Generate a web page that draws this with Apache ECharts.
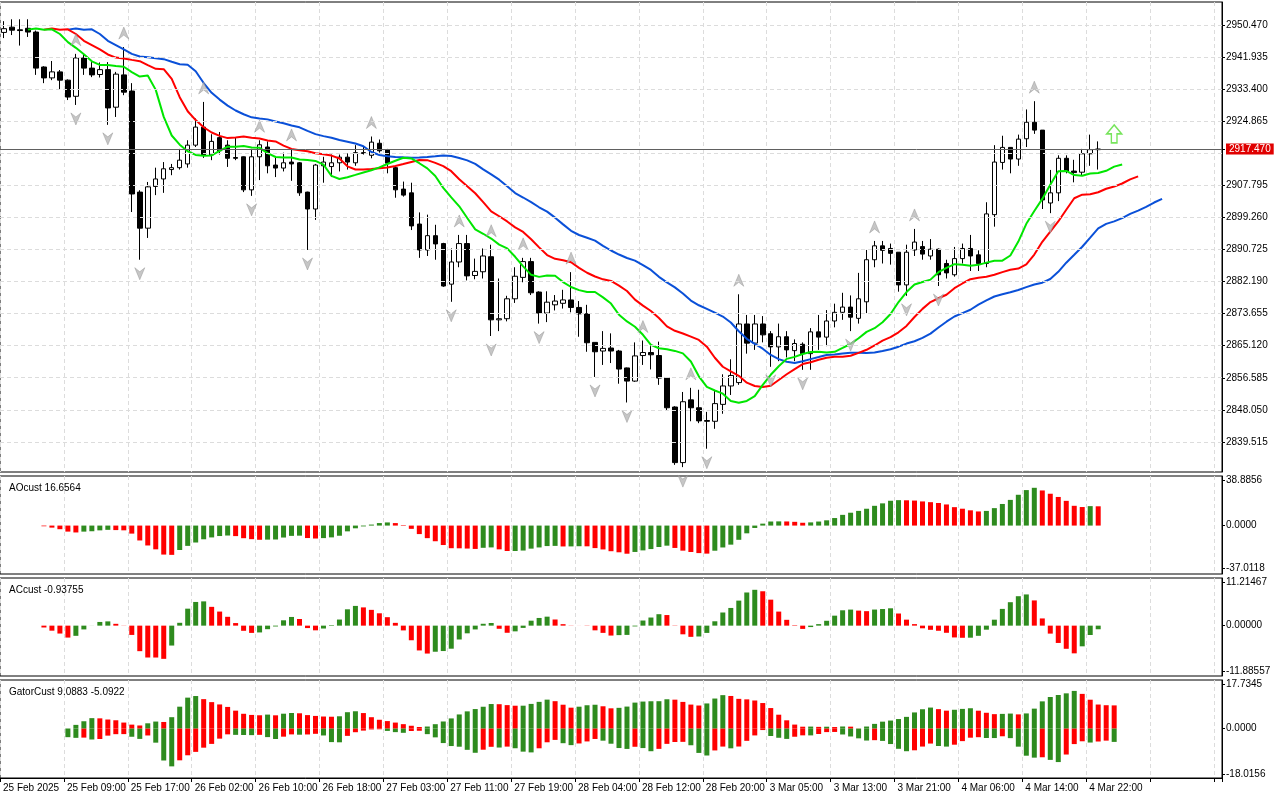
<!DOCTYPE html>
<html><head><meta charset="utf-8">
<script src="https://cdn.jsdelivr.net/npm/echarts@6/dist/echarts.min.js"></script>
<style>html,body{margin:0;padding:0;background:#fff}#c{width:1280px;height:800px}</style>
</head><body><div id="c"></div>
<script>
const DAYS = ['25 Feb','26 Feb','27 Feb','28 Feb','3 Mar','4 Mar'];
const HOURS = [1,2,3,4,5,6,7,8,9,10,11,12,13,14,15,16,17,18,19,20,21,22,23];
const FUTURE_SLOTS = 15;
const openP = [2948.5,2949.9,2949.2,2949.6,2948.6,2939.3,2936.4,2938,2935.8,2931.5,2941.7,2939,2937.3,2938.6,2928.6,2937.2,2932.9,2906,2896.4,2907.5,2909.5,2912,2912.5,2913.5,2918.5,2923.3,2915.9,2920.5,2918.5,2915.2,2915.4,2906.6,2915.4,2918,2913.2,2912.4,2914,2913.8,2906,2901.5,2913,2912.8,2913.8,2915.3,2913.8,2916.5,2915.8,2919,2917.2,2912.5,2906.8,2905.8,2897.5,2890.6,2894.4,2892.3,2881.5,2887.4,2892.3,2883.8,2884.8,2888.8,2872,2872.3,2877.6,2883.3,2887.5,2879.4,2873.8,2876,2876.4,2877.3,2875.3,2873.6,2866,2863.7,2864.5,2863.7,2859.2,2855.7,2862.5,2863.3,2862.5,2856.5,2848.8,2834,2850.7,2848.6,2845.2,2845,2849.5,2854.4,2855.3,2870.9,2865.8,2870.9,2868.3,2864.8,2867.5,2863.8,2865.5,2863,2868.8,2867.4,2871.7,2874,2875.4,2872.4,2876.8,2888,2891.7,2891,2890,2881.3,2890.6,2891.5,2889,2890.8,2887,2884,2888.3,2891,2889.3,2887,2900,2913.9,2917.9,2914.8,2920.2,2924.6,2922.5,2903.1,2905.8,2915,2911.6,2911.3,2916.2,2917.3];
const closeP = [2949.5,2949.1,2949.0,2948.6,2939.0,2936.4,2938.0,2935.8,2931.3,2941.7,2939,2937.2,2938.6,2928.4,2937.4,2932.6,2905.5,2896.4,2907.4,2909.5,2912.2,2912.5,2914.5,2918.5,2923.3,2915.9,2919.5,2917,2915,2915,2906.6,2915.4,2918.6,2913,2912.4,2913.8,2913.5,2905.8,2901.5,2913.2,2914,2913.8,2915.3,2914,2916.5,2916.3,2919.3,2917,2913.7,2906.6,2905.2,2897,2890.6,2894.4,2892.2,2881,2887.4,2892.3,2883.7,2884.9,2889,2872,2872.3,2877.6,2883.6,2887.5,2879.2,2873.8,2876.7,2877,2877.3,2875.3,2873.6,2865.9,2863.5,2864.4,2863.7,2858.9,2855.7,2862.4,2863.3,2862.7,2856.5,2848.6,2834,2850.2,2848.6,2845.1,2845.0,2849.7,2854.4,2857.2,2870.9,2865.8,2870.9,2868,2864.8,2867.5,2864,2865.7,2863,2868.8,2867.4,2871.7,2874,2875.4,2872.7,2877.6,2888,2891.7,2890.5,2889.7,2881.3,2890,2892.7,2889.5,2890.8,2884,2884.5,2888.3,2891,2889,2887,2900.2,2914,2917.9,2914.8,2920.1,2924.6,2922.5,2903.9,2905.8,2915,2911.6,2911.2,2916.2,2917.3,2917.47];
const lowP = [2947,2947.8,2945,2947.3,2937.2,2935,2935.8,2933.2,2930.5,2929.2,2937.2,2936.6,2936.5,2923.9,2926,2931.8,2900.7,2888,2893.8,2905.2,2905.8,2910.5,2912,2912.5,2918,2915.1,2914.5,2916,2912.7,2914.5,2906,2905,2909.2,2911,2910,2911.5,2909,2905,2890.6,2898.6,2908.5,2910,2911.5,2912,2913,2916,2915,2916.5,2911,2904.5,2904.8,2895.9,2888.5,2889,2888,2880.8,2876.8,2886,2882.5,2882.8,2883,2867.7,2869,2871.6,2876.5,2882,2878.6,2871,2871.4,2874.5,2875,2874,2867.5,2863.5,2856.8,2860,2860.5,2855,2850,2855.5,2860,2858.8,2854.7,2848,2833.4,2832.8,2845,2844.5,2837.7,2843,2847,2852,2854.7,2863,2864,2866,2859.5,2861,2862,2861,2858.7,2858.7,2864,2865,2870,2872,2869,2871,2873.8,2886,2887,2886.7,2879.5,2878.4,2889,2888,2888,2881,2883,2883.5,2887,2885,2885,2886,2896.8,2912,2911,2913,2918,2921.5,2901.5,2900.4,2903.6,2911,2908.6,2910.5,2913,2912];
const highP = [2951.5,2952,2952,2952,2949,2939.5,2940.9,2938.5,2936,2942.8,2942.5,2940.6,2940.5,2940.6,2938,2944.6,2935,2906.5,2908.7,2912.5,2914,2913.5,2917.5,2919.8,2925.6,2930,2921.4,2922,2919.8,2920.5,2915.5,2917.5,2919.8,2919.5,2915.4,2916.5,2917.5,2914,2906.1,2913.5,2915.4,2916,2916,2916.3,2918.5,2918,2920.8,2920,2917.5,2912.7,2908.8,2908.5,2900.6,2900,2897.3,2892.5,2891,2894.6,2894.6,2888.3,2891,2892,2883,2878.4,2886,2888.5,2888.5,2879.6,2879.6,2878.6,2880,2884.7,2877,2876,2866,2869,2868.4,2864,2859.3,2866,2866.5,2865,2866.2,2856.5,2849,2852.8,2853.9,2853.4,2847.5,2853.3,2857.5,2861.5,2878.8,2873.3,2873.3,2873,2869,2871,2869,2866.8,2866,2869.8,2873.3,2874.6,2876.3,2879.2,2878.5,2884.5,2890.6,2893,2893,2892.3,2890,2892,2896.2,2893,2893.5,2891,2888,2891.4,2892.3,2894.6,2890.5,2903.3,2918.5,2921,2918,2921.3,2928,2930.2,2922.5,2911.9,2915.8,2915.8,2914.6,2917.5,2921.3,2919.5];
const PRICE_TICKS = [2950.470,2941.935,2933.400,2924.865,2916.330,2907.795,2899.260,2890.725,2882.190,2873.655,2865.120,2856.585,2848.050,2839.515];
const CURRENT = 2917.470;
const AO_TICKS = [-37.0118, 0, 38.8856];
const AC_TICKS = [-11.88557, 0, 11.21467];
const GATOR_TICKS = [-18.0156, 0, 17.7345];
const SIGNAL = {index: 139, value: 2921.5};

const cats = [];
DAYS.forEach(d => HOURS.forEach(h => cats.push(d + ' ' + String(h).padStart(2,'0') + ':00')));
cats[0] = '25 Feb 2025';
for (let i = 0; i < FUTURE_SLOTS; i++) cats.push('');
const N = openP.length, M = cats.length;

const med = highP.map((h,i) => (h + lowP[i]) / 2);
function smma(src, n){const o=[];let s=0;for(let i=0;i<src.length;i++){if(i<n){s+=src[i];o.push(s/(i+1));}else o.push((o[i-1]*(n-1)+src[i])/n);}return o;}
function sma(src, n){return src.map((_,i)=>{const a=src.slice(Math.max(0,i-n+1),i+1);return a.reduce((x,y)=>x+y,0)/a.length;});}
function shift(arr, k){const o=new Array(M).fill(null);arr.forEach((v,i)=>{if(i+k<M)o[i+k]=v;});return o;}
const jaw = shift(smma(med,13),8), teeth = shift(smma(med,8),5), lips = shift(smma(med,5),3);
const s5 = sma(med,5), s34 = sma(med,34);
const ao = med.map((_,i)=>s5[i]-s34[i]);
const aoS = sma(ao,5);
const ac = ao.map((v,i)=>v-aoS[i]);
const GREEN='#2e8b1e', RED='#ff0000';
function colored(arr){return arr.map((v,i)=>({value:v,itemStyle:{color:(i>0&&v>arr[i-1])?GREEN:RED}}));}
const gUp=[], gDn=[]; let pu=null, pd=null;
for(let j=0;j<M;j++){
  if(jaw[j]!=null&&teeth[j]!=null&&lips[j]!=null&&j<N+2){
    const u=Math.abs(jaw[j]-teeth[j]), d=Math.abs(teeth[j]-lips[j]);
    gUp.push({value:u,itemStyle:{color:(pu==null||u>=pu)?GREEN:RED}});
    gDn.push({value:-d,itemStyle:{color:(pd==null||d>=pd)?GREEN:RED}});
    pu=u; pd=d;
  } else {gUp.push(null); gDn.push(null);}
}
const fUp=[], fDn=[];
for(let i=2;i<N-2;i++){
  if(highP[i]>highP[i-1]&&highP[i]>highP[i-2]&&highP[i]>=highP[i+1]&&highP[i]>=highP[i+2]) fUp.push([i,highP[i]]);
  if(lowP[i]<lowP[i-1]&&lowP[i]<lowP[i-2]&&lowP[i]<=lowP[i+1]&&lowP[i]<=lowP[i+2]) fDn.push([i,lowP[i]]);
}
const candles = openP.map((o,i)=>[o,closeP[i],lowP[i],highP[i]]);

const FONT = 'Liberation Sans';
const GRIDS = [{top:2,height:470},{top:476,height:98},{top:578,height:98},{top:680,height:98}];
const grid = GRIDS.map(g=>({left:0,width:1222,top:g.top,height:g.height,show:true,borderColor:'#000',borderWidth:1,backgroundColor:'#fff'}));
const xAxis = GRIDS.map((g,k)=>({type:'category',gridIndex:k,data:cats,boundaryGap:true,
  axisLine:{show:k===3,onZero:false,lineStyle:{color:'#000'}},
  axisTick:{show:k===3,interval:7,length:4,lineStyle:{color:'#000'}},
  axisLabel:{show:k===3,interval:7,align:'left',margin:5,fontFamily:FONT,fontSize:10,color:'#000',padding:[0,0,0,-1]},
  splitLine:{show:true,interval:7,lineStyle:{color:'#dcdcdc',type:[4,3]}}}));
function yax(k,min,max,ticks,fmt,extra){return Object.assign({type:'value',gridIndex:k,position:'right',min:min,max:max,scale:true,
  axisLine:{show:true,lineStyle:{color:'#000'}},
  axisTick:{show:true,length:3,customValues:ticks,lineStyle:{color:'#000'}},
  axisLabel:{customValues:ticks,fontFamily:FONT,fontSize:10,color:'#000',margin:4,formatter:fmt},
  splitLine:{show:false}},extra||{});}
const mainTicks = PRICE_TICKS.filter(v=>v!==2916.330).concat([CURRENT]);
const yAxis = [
  yax(0,2831.5,2956.6,mainTicks,null,
    {axisLabel:{customValues:mainTicks,fontFamily:FONT,fontSize:10,color:'#000',margin:4,
      formatter:v=>Math.abs(v-CURRENT)<1e-6?'{cur|'+v.toFixed(3)+'}':v.toFixed(3),
      rich:{cur:{backgroundColor:'#e00000',color:'#fff',fontFamily:FONT,fontSize:10,padding:[1,3,0,3]}}}}),
  yax(1,-42,43,AO_TICKS,v=>v.toFixed(4)),
  yax(2,-13,12.3,AC_TICKS,v=>v.toFixed(5)),
  yax(3,-19.7,19.4,GATOR_TICKS,v=>v.toFixed(4))
];
const ARROW_UP='path://M5,0 L10,12 L5,8 L0,12 Z';
const ARROW_DN='path://M5,12 L10,0 L5,4 L0,0 Z';
const line=(d,c)=>({type:'line',data:d,xAxisIndex:0,yAxisIndex:0,symbol:'none',lineStyle:{color:c,width:2},connectNulls:false,z:3});
const option = {
  animation:false, backgroundColor:'#fff', grid, xAxis, yAxis,
  title:[
    {text:'AOcust 16.6564',left:4,top:478,textStyle:{fontFamily:FONT,fontSize:10,fontWeight:'normal',color:'#000'}},
    {text:'ACcust -0.93755',left:4,top:580,textStyle:{fontFamily:FONT,fontSize:10,fontWeight:'normal',color:'#000'}},
    {text:'GatorCust 9.0883 -5.0922',left:4,top:682,textStyle:{fontFamily:FONT,fontSize:10,fontWeight:'normal',color:'#000'}}
  ],
  series:[
    {type:'candlestick',data:candles,xAxisIndex:0,yAxisIndex:0,barWidth:5,
      itemStyle:{color:'#fff',color0:'#000',borderColor:'#000',borderColor0:'#000',borderWidth:1},
      markLine:{silent:true,symbol:'none',label:{show:false},animation:false,
        data:PRICE_TICKS.map(v=>({yAxis:v,lineStyle:{color:'#dcdcdc',type:[4,3],width:1}})).concat([{yAxis:CURRENT,lineStyle:{color:'#606060',type:'solid',width:1}}])}},
    line(jaw,'#0a50d8'), line(teeth,'#ff0000'), line(lips,'#00e600'),
    {type:'scatter',data:fUp,xAxisIndex:0,yAxisIndex:0,symbol:ARROW_UP,symbolSize:[10,12],symbolOffset:[0,-14],
      itemStyle:{color:'#b8b8b8',borderColor:'#888',borderWidth:0.5},z:4},
    {type:'scatter',data:fDn,xAxisIndex:0,yAxisIndex:0,symbol:ARROW_DN,symbolSize:[10,12],symbolOffset:[0,14],
      itemStyle:{color:'#b8b8b8',borderColor:'#888',borderWidth:0.5},z:4},
    {type:'scatter',data:[[SIGNAL.index,SIGNAL.value]],xAxisIndex:0,yAxisIndex:0,symbol:'path://M8,0 L16,9 L11,9 L11,18 L5,18 L5,9 L0,9 Z',
      symbolSize:[15,18],itemStyle:{color:'#fff',borderColor:'#55dd33',borderWidth:1.5},z:5},
    {type:'bar',data:colored(ao),xAxisIndex:1,yAxisIndex:1,barWidth:5},
    {type:'bar',data:colored(ac),xAxisIndex:2,yAxisIndex:2,barWidth:5},
    {type:'bar',data:gUp,xAxisIndex:3,yAxisIndex:3,barWidth:5,barGap:'-100%'},
    {type:'bar',data:gDn,xAxisIndex:3,yAxisIndex:3,barWidth:5,barGap:'-100%'}
  ]
};
echarts.init(document.getElementById('c')).setOption(option);
</script></body></html>
